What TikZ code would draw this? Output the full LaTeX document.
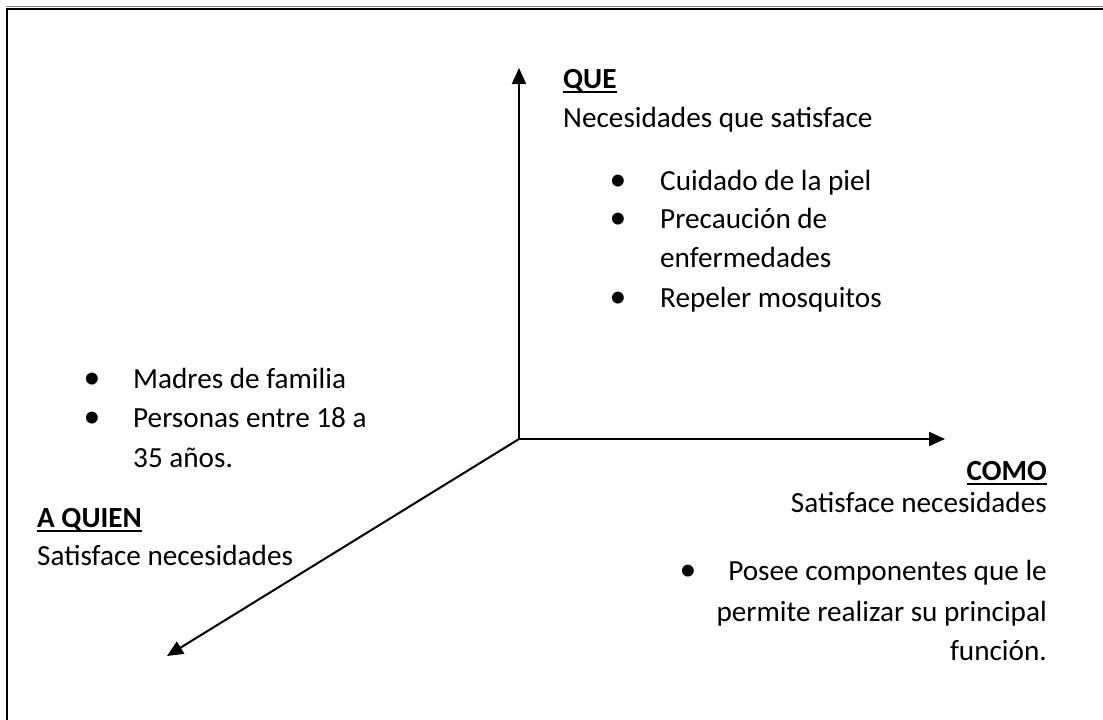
\documentclass[tikz,border=0pt]{standalone}
\usepackage{fontspec}
\setmainfont{Carlito}
\usetikzlibrary{arrows.meta}
\tikzset{
  axis/.style={line width=2pt,-{Triangle[length=16pt,width=14pt]}},
  txt/.style={anchor=base west,inner sep=0pt},
  rtxt/.style={anchor=base east,inner sep=0pt},
  dot/.style={anchor=base,inner sep=0pt,scale=1.15}
}
\newcommand{\hdr}[1]{\setbox0=\hbox{\bfseries #1}\rlap{\rule[-5pt]{\wd0}{2pt}}\box0}

\begin{document}
\begin{tikzpicture}[x=1pt,y=-1pt,font=\fontsize{29.2}{38.5}\selectfont]
\useasboundingbox (0,0) rectangle (1103,720);
\draw[gray,line width=1pt] (6,6.8) -- (1103,6.8);
\draw[line width=2.5pt] (7.2,720) -- (7.2,8.8) -- (1103,8.8);

\coordinate (o) at (519,439);
\coordinate (que) at (519,68);
\coordinate (como) at (945,439);
\coordinate (aquien) at (167,656);
\draw[axis] (o) -- (que);
\draw[axis] (o) -- (como);
\draw[axis] (o) -- (aquien);

\node[txt] (q0) at (563,88) {\hdr{QUE}};
\node[txt] (q1) at (563,127) {Necesidades que satisface};
\node[dot] (qb1) at (618,190) {\textbullet};
\node[txt] (q2) at (660,190) {Cuidado de la piel};
\node[dot] (qb2) at (618,228) {\textbullet};
\node[txt] (q3) at (660,228) {Precaución de};
\node[txt] (q4) at (660,267) {enfermedades};
\node[dot] (qb3) at (618,307) {\textbullet};
\node[txt] (q5) at (660,307) {Repeler mosquitos};

\node[dot] (ab1) at (92,388) {\textbullet};
\node[txt] (a1) at (133,388) {Madres de familia};
\node[dot] (ab2) at (92,427) {\textbullet};
\node[txt] (a2) at (133,427) {Personas entre 18 a};
\node[txt] (a3) at (133,467) {35 años.};
\node[txt] (a0) at (37,527) {\hdr{A QUIEN}};
\node[txt] (a4) at (37,565) {Satisface necesidades};

\node[rtxt] (c0) at (1047,480) {\hdr{COMO}};
\node[rtxt] (c1) at (1047,512) {Satisface necesidades};
\node[dot] (cb1) at (688,580) {\textbullet};
\node[rtxt] (c2) at (1047,580) {Posee componentes que le};
\node[rtxt] (c3) at (1047,621) {permite realizar su principal};
\node[rtxt] (c4) at (1047,660) {función.};
\end{tikzpicture}
\end{document}
